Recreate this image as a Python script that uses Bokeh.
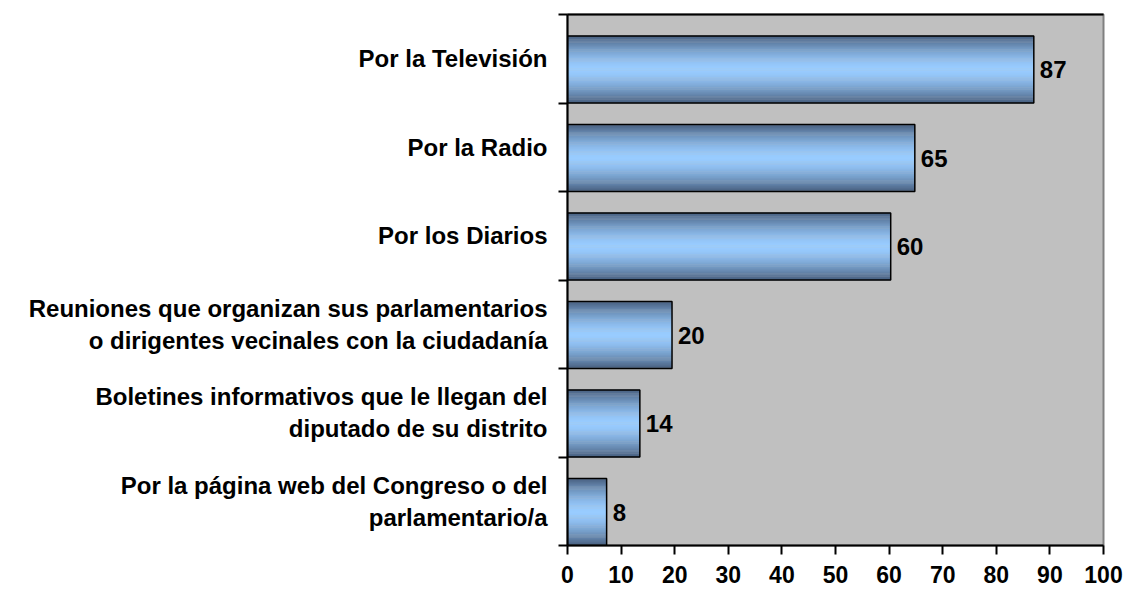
from bokeh.plotting import figure
from bokeh.models import (Range1d, FixedTicker, LinearAxis, ColumnDataSource)
from bokeh.core.properties import value
from bokeh.embed import file_html
from bokeh.resources import INLINE

categories = [
    "Por la Televisión",
    "Por la Radio",
    "Por los Diarios",
    "Reuniones que organizan sus parlamentarios\no dirigentes vecinales con la ciudadanía",
    "Boletines informativos que le llegan del\ndiputado de su distrito",
    "Por la página web del Congreso o del\nparlamentario/a",
]
values = [87.0, 64.8, 60.3, 19.5, 13.5, 7.3]
value_labels = ["87", "65", "60", "20", "14", "8"]
x_ticks = [0, 10, 20, 30, 40, 50, 60, 70, 80, 90, 100]

FONT = "Liberation Sans"
n = len(categories)

p = figure(width=1126, height=592, output_backend="svg", toolbar_location=None,
           x_range=Range1d(0, 100), y_range=Range1d(n, 0),
           min_border_left=567, min_border_right=23, min_border_top=14, min_border_bottom=47)
p.background_fill_color = "#C0C0C0"
p.border_fill_color = "white"
p.outline_line_color = "#808080"
p.outline_line_width = 2
p.grid.visible = False

# bar geometry (relative to category band)
bar_h = 0.757
centers = [i + 0.5 for i in range(n)]
bar_bottom = [i + 1 for i in range(n)]

# gradient strips
N = 60
light = (0x99, 0xCC, 0xFF)
dark = (0x47, 0x5E, 0x7E)
ys, rights, hs, cols = [], [], [], []
for k in range(N):
    t = (k + 0.5) / N
    s = abs(t - 0.5) * 2
    s = s ** 1.6
    c = tuple(int(round(light[j] + (dark[j] - light[j]) * s)) for j in range(3))
    col = "#%02x%02x%02x" % c
    for i in range(n):
        top = bar_bottom[i] - bar_h
        ys.append(top + (k + 0.5) * bar_h / N)
        rights.append(values[i])
        hs.append(bar_h / N * 1.3)
        cols.append(col)
p.hbar(y=ys, left=0, right=rights, height=hs, fill_color=cols, line_color=None)

bar_c = [b - bar_h / 2 for b in bar_bottom]
src = ColumnDataSource(dict(y=bar_c, v=values, lab=value_labels))
p.hbar(y="y", left=0, right="v", height=bar_h, source=src,
       fill_alpha=0, line_color="black", line_width=1.5)

p.text(x="v", y="y", text="lab", source=src, x_offset=6,
       text_font=value(FONT), text_font_style="bold", text_font_size="24px",
       text_baseline="middle", text_align="left", text_color="black")

# axes
xa = p.xaxis[0]
xa.ticker = FixedTicker(ticks=x_ticks)
xa.axis_line_color = "black"
xa.axis_line_width = 2
xa.major_tick_line_color = "black"
xa.major_tick_line_width = 2
xa.major_tick_out = 9
xa.major_tick_in = 0
xa.minor_tick_line_color = None
xa.major_label_text_font = FONT
xa.major_label_text_font_style = "bold"
xa.major_label_text_font_size = "23px"
xa.major_label_text_color = "black"
xa.major_label_standoff = 11

ya = p.yaxis[0]
ya.ticker = FixedTicker(ticks=centers, minor_ticks=list(range(n + 1)))
ya.major_label_overrides = {c: categories[i] for i, c in enumerate(centers)}
ya.axis_line_color = "black"
ya.axis_line_width = 2
ya.major_tick_line_color = None
ya.major_tick_out = 0
ya.major_tick_in = 0
ya.minor_tick_line_color = "black"
ya.minor_tick_line_width = 2
ya.minor_tick_out = 9
ya.minor_tick_in = 0
ya.major_label_text_font = FONT
ya.major_label_text_font_style = "bold"
ya.major_label_text_font_size = "24px"
ya.major_label_text_color = "black"
ya.major_label_standoff = 11

top_axis = LinearAxis(axis_line_color="black", axis_line_width=2,
                      major_tick_line_color=None, minor_tick_line_color=None,
                      major_label_text_font_size="0px", ticker=FixedTicker(ticks=[]))
p.add_layout(top_axis, "above")

open("out.html", "w").write(file_html(p, INLINE))
